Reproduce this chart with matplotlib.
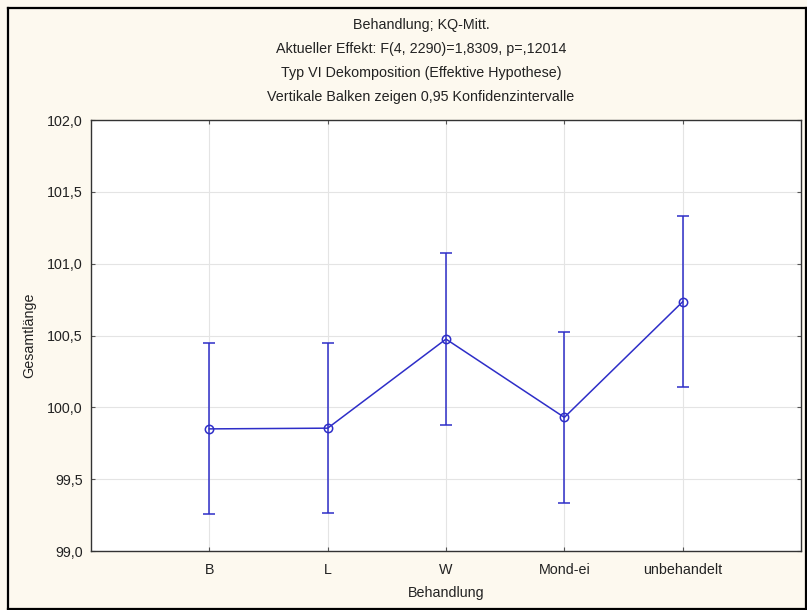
import numpy as np
import matplotlib.pyplot as plt
from matplotlib.ticker import FuncFormatter
from matplotlib.lines import Line2D

plt.rcParams['font.family'] = ['Liberation Sans', 'DejaVu Sans']

# least-squares means per treatment with 0.95 confidence limits
groups = ['B', 'L', 'W', 'Mond-ei', 'unbehandelt']
means = [99.85, 99.855, 100.475, 99.93, 100.735]
ci_low = [99.255, 99.265, 99.88, 99.335, 100.14]
ci_high = [100.445, 100.445, 101.072, 100.523, 101.332]

title_lines = ['Behandlung; KQ-Mitt.',
               'Aktueller Effekt: F(4, 2290)=1,8309, p=,12014',
               'Typ VI Dekomposition (Effektive Hypothese)',
               'Vertikale Balken zeigen 0,95 Konfidenzintervalle']

W, H = 807, 610
bg = '#fdf9ef'
blue = '#2e2ec8'
txt = '#222222'
fs = 10.3

fig = plt.figure(figsize=(W / 100, H / 100), dpi=100, facecolor=bg)
ax = fig.add_axes([91 / W, 1 - 551 / H, (801 - 91) / W, (551 - 120) / H])
ax.set_facecolor('white')

x = np.arange(1, len(groups) + 1)
m = np.array(means)
err = [m - np.array(ci_low), np.array(ci_high) - m]
ax.errorbar(x, m, yerr=err, color=blue, lw=1.1, elinewidth=1.1,
            capsize=4.3, capthick=1.1, marker='o', ms=6,
            mfc='none', mec=blue, mew=1.1, zorder=3)

ax.set_xlim(0, 6)
ax.set_ylim(99.0, 102.0)
ax.set_xticks(x)
ax.set_xticklabels(groups)
ax.set_yticks(np.arange(99.0, 102.01, 0.5))
ax.yaxis.set_major_formatter(FuncFormatter(lambda v, p: f'{v:.1f}'.replace('.', ',')))
ax.grid(True, color='#e4e4e4', lw=0.8, zorder=0)
ax.set_axisbelow(True)

ax.tick_params(direction='in', length=3, width=0.8, color='#555555',
               labelsize=fs, labelcolor=txt, top=True, right=True)
ax.tick_params(axis='y', pad=6)
ax.tick_params(axis='x', pad=9)
for s in ax.spines.values():
    s.set_color('#333333')
    s.set_linewidth(1.0)

ax.set_xlabel('Behandlung', fontsize=fs, color=txt, labelpad=6)
ax.set_ylabel('Gesamtlänge', fontsize=fs, color=txt, labelpad=8)

for i, line in enumerate(title_lines):
    fig.text(421 / W, 1 - (25 + 24 * i) / H, line, ha='center', va='center',
             fontsize=fs, color=txt)

# black frame round the whole chart
fx0, fy0 = 8 / W, 1 - 8 / H
fx1, fy1 = 806 / W, 1 - 609 / H
for xs, ys in [([fx0, fx0], [fy1, fy0]), ([fx0, fx1], [fy0, fy0]),
               ([fx1, fx1], [fy1, fy0]), ([fx0, fx1], [fy1, fy1])]:
    fig.add_artist(Line2D(xs, ys, transform=fig.transFigure, color='black', lw=1.6))

fig.savefig('out.png', dpi=100, facecolor=bg)
